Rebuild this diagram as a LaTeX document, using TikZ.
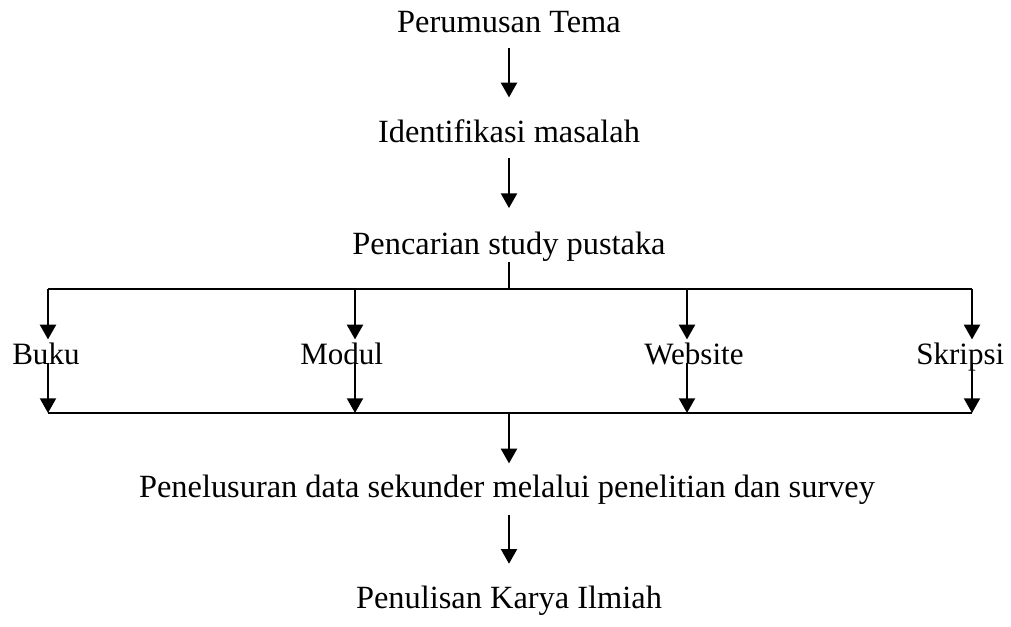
\documentclass[tikz,border=0pt]{standalone}
\usepackage{fontspec}
\setmainfont{Liberation Serif}
\usetikzlibrary{arrows.meta}

\tikzset{
  txt/.style={font=\fontsize{24.3}{29}\selectfont, inner sep=0pt, text height=15pt, text depth=5pt, anchor=base},
  src/.style={txt, font=\fontsize{23.3}{28}\selectfont, anchor=base west},
  flow/.style={-{Triangle[length=11pt, width=12pt]}, line width=1.5pt},
  bar/.style={line width=1.5pt}
}

\begin{document}
\begin{tikzpicture}[x=0.75pt, y=-0.75pt]
  \useasboundingbox (0,0) rectangle (1011,627);
  % steps from top to bottom
  \node[txt] (tema) at (509,33) {Perumusan Tema};
  \node[txt] (masalah) at (509,143) {Identifikasi masalah};
  \node[txt] (pustaka) at (509,255) {Pencarian study pustaka};
  \node[txt] (sekunder) at (507,497) {Penelusuran data sekunder melalui penelitian dan survey};
  \node[txt] (karya) at (509,608) {Penulisan Karya Ilmiah};
  % sources
  \node[src] (buku) at (12,365) {Buku};
  \node[src] (modul) at (300,365) {Modul};
  \node[src] (website) at (644,365) {Website};
  \node[src] (skripsi) at (916,365) {Skripsi};
  % branch lines
  \coordinate (tl) at (48,289);
  \coordinate (tr) at (972,289);
  \coordinate (bl) at (48,413);
  \coordinate (br) at (972,413);
  \draw[bar] (tl) -- (tr);
  \draw[bar] (bl) -- (br);
  \draw[flow, shorten <=6pt, shorten >=19pt] (tema.south) -- (masalah.north);
  \draw[flow, shorten <=6pt, shorten >=20pt] (masalah.south) -- (pustaka.north);
  \draw[bar] (pustaka.south) -- (pustaka.south |- tl);
  \foreach \n/\x in {buku/48, modul/355, website/687, skripsi/972} {
    \coordinate (t-\n) at (\x,289);
    \coordinate (b-\n) at (\x,413);
    \draw[flow, shorten >=4pt] (t-\n) -- (t-\n |- \n.north);
    \draw[flow] (b-\n |- \n.base) ++(0,-2) -- (b-\n);
  }
  \draw[flow, shorten >=10pt] (pustaka.south |- bl) -- (pustaka.south |- sekunder.north);
  \draw[flow, shorten <=8pt, shorten >=18pt] (pustaka.south |- sekunder.south) -- (pustaka.south |- karya.north);
\end{tikzpicture}
\end{document}
